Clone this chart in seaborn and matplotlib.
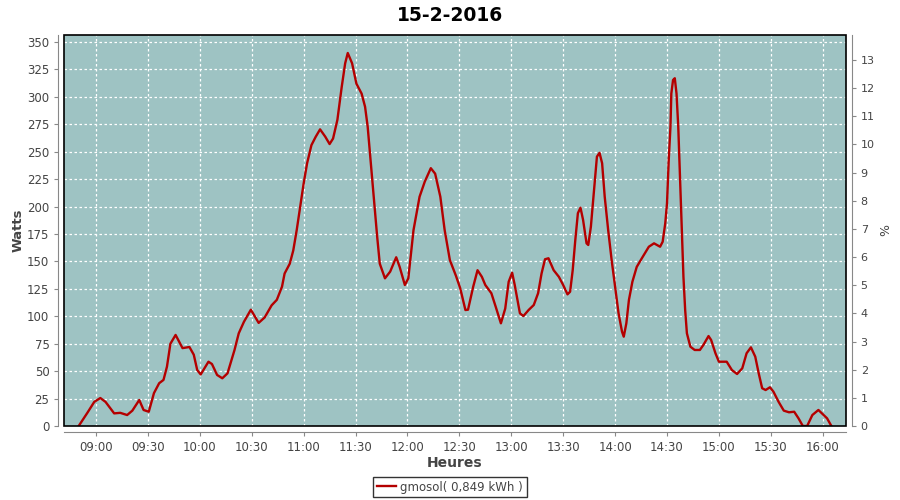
import pandas as pd
import matplotlib.pyplot as plt
import matplotlib.dates as mdates
from matplotlib.patches import Rectangle
import seaborn as sns

# Production readings for 15-2-2016 (time, watts)
times = [
    "08:50:00", "08:55:00", "08:59:00", "09:02:30", "09:05:30", "09:10:30", "09:14:00", "09:18:00",
    "09:21:00", "09:25:00", "09:27:30", "09:30:30", "09:33:30", "09:36:30", "09:39:00", "09:41:00",
    "09:43:00", "09:46:00", "09:50:00", "09:54:00", "09:56:30", "09:58:30", "10:00:30", "10:05:00",
    "10:07:00", "10:10:00", "10:13:00", "10:16:00", "10:20:00", "10:22:30", "10:25:30", "10:29:30",
    "10:34:00", "10:37:30", "10:41:30", "10:44:30", "10:47:30", "10:49:00", "10:52:00", "10:54:00",
    "10:56:00", "10:58:00", "11:00:00", "11:02:00", "11:04:30", "11:07:00", "11:09:30", "11:12:30",
    "11:15:00", "11:17:00", "11:19:30", "11:22:00", "11:24:00", "11:25:30", "11:28:00", "11:30:30",
    "11:33:30", "11:35:30", "11:37:00", "11:38:30", "11:40:30", "11:42:30", "11:44:00", "11:47:00",
    "11:50:00", "11:53:30", "11:55:30", "11:58:30", "12:00:30", "12:03:30", "12:07:00", "12:10:00",
    "12:13:30", "12:16:00", "12:19:00", "12:21:30", "12:24:30", "12:28:00", "12:30:30", "12:33:30",
    "12:35:00", "12:38:00", "12:40:30", "12:43:00", "12:45:00", "12:48:30", "12:51:00", "12:54:00",
    "12:56:30", "12:58:30", "13:00:30", "13:02:00", "13:05:00", "13:07:00", "13:10:00", "13:13:00",
    "13:15:30", "13:17:30", "13:19:30", "13:21:30", "13:24:30", "13:27:30", "13:30:00", "13:32:30",
    "13:34:00", "13:35:30", "13:37:00", "13:38:30", "13:40:00", "13:41:30", "13:43:30", "13:44:30",
    "13:46:00", "13:47:30", "13:49:30", "13:51:00", "13:52:30", "13:54:00", "13:56:00", "13:58:00",
    "14:00:00", "14:02:00", "14:04:00", "14:05:00", "14:06:30", "14:08:00", "14:10:00", "14:12:30",
    "14:15:30", "14:19:30", "14:22:30", "14:26:00", "14:27:30", "14:29:00", "14:30:00", "14:31:00",
    "14:32:00", "14:32:30", "14:33:30", "14:34:30", "14:35:30", "14:36:30", "14:37:30", "14:38:30",
    "14:39:30", "14:40:30", "14:41:30", "14:43:30", "14:46:00", "14:49:00", "14:51:00", "14:54:00",
    "14:55:30", "14:58:00", "15:00:00", "15:04:30", "15:07:30", "15:10:30", "15:13:30", "15:16:00",
    "15:18:30", "15:21:00", "15:23:00", "15:25:00", "15:27:00", "15:29:30", "15:31:30", "15:34:30",
    "15:37:30", "15:40:30", "15:43:30", "15:46:00", "15:48:30", "15:51:00", "15:54:00", "15:57:30",
    "16:00:30", "16:02:30", "16:05:00",
]
watts = [
    0, 12, 22, 25.5, 22, 11.5, 12, 10,
    14, 23.7, 14.6, 13, 30, 39, 42, 54,
    75, 83, 71, 72, 65, 51, 47, 58.6,
    56.5, 46.5, 43.5, 48, 69, 84.5, 95, 106,
    94, 99, 110, 115, 127, 139, 148, 160,
    178.6, 200, 221, 239.5, 256, 263.7, 270.4, 263.7,
    257, 262, 279, 309, 330.6, 340, 330.6, 312,
    303, 291, 273, 245.5, 209, 172.5, 148, 134.6,
    140.7, 153.8, 145, 128.5, 134.6, 178.6, 209, 222.7,
    235, 230, 209, 178.6, 151.3, 137, 125.5, 105.7,
    106, 127, 142, 136, 128.5, 121, 108.7, 93.6,
    107, 131.5, 139.7, 128.5, 102.7, 100.2, 105.7, 110.3,
    121, 139, 152, 152.9, 142, 136, 128.5, 120,
    122.4, 142, 169.5, 194, 199, 187.8, 166.5, 165,
    181.6, 209, 245.5, 249, 239.5, 209, 178.6, 151.3,
    127, 102.7, 86, 81.4, 93.6, 115, 131.5, 145,
    153, 163.4, 166.5, 163.4, 168, 184.8, 203, 242.5,
    273, 303, 315.4, 317, 303, 273, 227, 181.6,
    136, 105.7, 84.5, 72.3, 69.3, 69.3, 73.8, 82,
    78.4, 66.3, 58.6, 58.6, 51, 47.4, 52.6, 66.3,
    71.7, 63.2, 48, 34.4, 32.8, 35.3, 31.3, 22,
    14, 12.5, 13, 7, 0, 0, 10, 14.6,
    10, 7, 0,
]
day = "2016-02-15"
title = "15-2-2016"
series_label = "gmosol( 0,849 kWh )"
watts_per_pct = 25.66

df = pd.DataFrame({"time": pd.to_datetime([day + " " + t for t in times]), "watts": watts})

plt.rcParams['font.family'] = ['DejaVu Sans']
fig = plt.figure(figsize=(9, 5), dpi=100)
ax = fig.add_axes([0.0711, 0.148, 0.869, 0.782])
ax.set_facecolor("#9EC3C3")

sns.lineplot(data=df, x="time", y="watts", ax=ax, color="#B40000", linewidth=1.7,
             label=series_label, zorder=3)

ymax = 356.4
ax.set_ylim(0, ymax)
ax.set_yticks(range(0, 351, 25))
ax.set_xlim(pd.Timestamp(day + " 08:41:30"), pd.Timestamp(day + " 16:13:30"))
ax.set_xticks(pd.date_range(day + " 09:00", day + " 16:00", freq="30min"))
ax.xaxis.set_major_formatter(mdates.DateFormatter("%H:%M"))
ax.grid(True, color="white", linestyle=(0, (2, 2)), linewidth=0.9)
ax.set_axisbelow(True)

ax.set_xlabel("Heures", fontsize=10, fontweight="bold", color="#444444", labelpad=2)
ax.set_ylabel("Watts", fontsize=9.5, fontweight="bold", color="#444444", labelpad=2)
ax.tick_params(axis="both", labelsize=8.5, colors="#888888", labelcolor="#444444", length=3)

for side in ["left", "bottom"]:
    ax.spines[side].set_position(("outward", 4))
    ax.spines[side].set_color("#888888")
ax.spines["right"].set_visible(False)
ax.spines["top"].set_visible(False)

# right-hand percent axis
ax2 = ax.twinx()
ax2.set_ylim(0, ymax / watts_per_pct)
ax2.set_yticks(range(0, 14))
ax2.tick_params(axis="y", labelsize=8, colors="#888888", labelcolor="#444444", length=3)
for side in ["left", "bottom", "top"]:
    ax2.spines[side].set_visible(False)
ax2.spines["right"].set_position(("outward", 4))
ax2.spines["right"].set_color("#888888")
ax2.set_ylabel("%", fontsize=9, color="#444444", labelpad=3)

ax2.add_patch(Rectangle((0, 0), 1, 1, transform=ax2.transAxes, fill=False,
                        edgecolor="black", linewidth=1.2, clip_on=False, zorder=10))

fig.suptitle(title, fontsize=13.5, fontweight="bold", y=0.988)

ax.legend_.remove()
handles, labels = ax.get_legend_handles_labels()
fig.legend(handles, labels, loc="center", bbox_to_anchor=(0.5, 0.026), frameon=True,
           fancybox=False, edgecolor="black", fontsize=8.5, handlelength=1.6,
           borderpad=0.3, handletextpad=0.4, labelcolor="#444444")

fig.savefig("out.png", dpi=100)
